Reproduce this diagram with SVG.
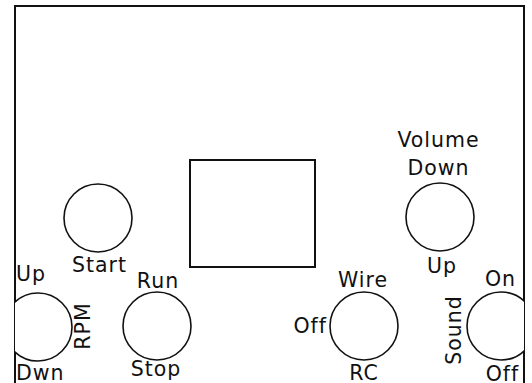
<svg xmlns="http://www.w3.org/2000/svg" width="532" height="383" viewBox="0 0 532 383">
<defs>
<style>
.frame{fill:none;stroke:#111;stroke-width:2}
.knob{fill:#fff;stroke:#111;stroke-width:1.6}
.screen{fill:#fff;stroke:#111;stroke-width:2}
text{font-family:"DejaVu Sans",Verdana,sans-serif;font-size:20.5px;letter-spacing:1px;fill:#111}
.m{text-anchor:middle}
.e{text-anchor:end}
</style>
<clipPath id="inside"><rect x="15" y="0" width="509" height="383"/></clipPath>
</defs>
<rect width="532" height="383" fill="#fff"/>
<g id="frame"><path class="frame" d="M15,383 V6 H524 V383"/></g>
<g id="screen"><rect class="screen" x="190" y="160" width="125" height="107"/></g>
<g id="start"><circle class="knob" cx="98" cy="218" r="34"/><text class="m" x="99.5" y="272">Start</text></g>
<g id="rpm" clip-path="url(#inside)"><circle class="knob" cx="38" cy="327" r="34"/></g>
<g id="rpm-labels"><text x="16" y="281">Up</text><text x="16" y="380">Dwn</text><text class="m" transform="translate(90,326) rotate(-90)">RPM</text></g>
<g id="runstop"><circle class="knob" cx="157" cy="326" r="34"/><text class="m" x="158" y="288">Run</text><text class="m" x="156" y="376">Stop</text></g>
<g id="wire"><circle class="knob" cx="364" cy="326" r="34"/><text class="m" x="363" y="287">Wire</text><text class="e" x="327" y="333">Off</text><text class="m" x="364" y="380">RC</text></g>
<g id="volume"><circle class="knob" cx="440" cy="217" r="34"/><text class="m" x="438.5" y="147">Volume</text><text class="m" x="438.5" y="175">Down</text><text class="m" x="442" y="273">Up</text></g>
<g id="sound" clip-path="url(#inside)"><circle class="knob" cx="501" cy="326" r="34"/></g>
<g id="sound-labels"><text class="m" x="500.5" y="286">On</text><text class="m" x="502.5" y="381">Off</text><text class="m" transform="translate(461,330) rotate(-90)">Sound</text></g>
</svg>
